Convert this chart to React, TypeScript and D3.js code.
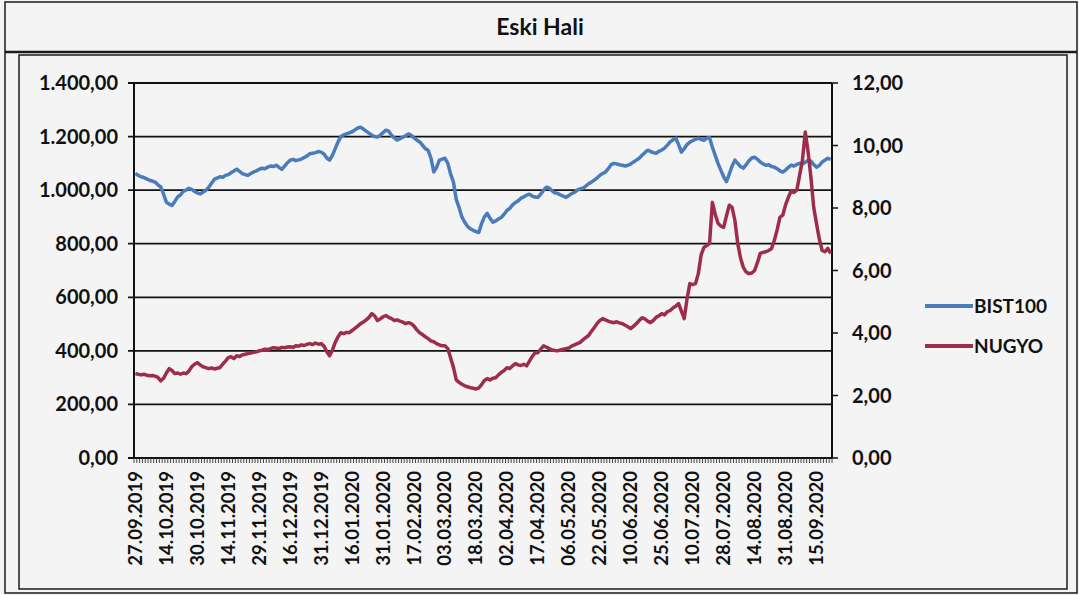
import React from "react";
import * as d3 from "d3";

// tick labels, one every 11 trading days
const dateLabels = [
  "27.09.2019", "14.10.2019", "30.10.2019", "14.11.2019", "29.11.2019", "16.12.2019",
  "31.12.2019", "16.01.2020", "31.01.2020", "17.02.2020", "03.03.2020", "18.03.2020",
  "02.04.2020", "17.04.2020", "06.05.2020", "22.05.2020", "10.06.2020", "25.06.2020",
  "10.07.2020", "28.07.2020", "14.08.2020", "31.08.2020", "15.09.2020",
];
const labelStep = 11;

// BIST100 (left axis)
const bist100 = [
  1063, 1055, 1050, 1047, 1042, 1037, 1034, 1030, 1020, 1012, 985,
  955, 948, 943, 958, 975, 982, 995, 1000, 1007, 1003, 995,
  990, 986, 992, 999, 1010, 1025, 1040, 1045, 1050, 1048, 1055,
  1058, 1065, 1072, 1078, 1070, 1062, 1058, 1055, 1062, 1068, 1072,
  1078, 1082, 1080, 1086, 1090, 1088, 1093, 1085, 1078, 1090, 1102,
  1112, 1115, 1110, 1113, 1116, 1122, 1128, 1136, 1138, 1140, 1144,
  1142, 1135, 1120, 1112, 1130, 1155, 1180, 1200, 1206, 1210, 1214,
  1218, 1225, 1232, 1235, 1228, 1220, 1213, 1205, 1200, 1198, 1205,
  1215, 1224, 1220, 1205, 1195, 1187, 1192, 1198, 1203, 1210, 1205,
  1195, 1187, 1180, 1168, 1155, 1149, 1120, 1068, 1085, 1112, 1116,
  1119, 1100, 1060, 1030, 965, 935, 900, 880, 865, 856, 850,
  845, 842, 875, 900, 913, 895, 880, 885, 892, 898, 910,
  924, 932, 945, 954, 960, 970, 975, 981, 985, 978, 974,
  973, 985, 1000, 1011, 1008, 998, 990, 988, 982, 978, 973,
  980, 987, 992, 1000, 1005, 1007, 1015, 1024, 1030, 1037, 1045,
  1055, 1062, 1067, 1080, 1095, 1100, 1098, 1095, 1093, 1090, 1093,
  1098, 1105, 1112, 1119, 1130, 1140, 1149, 1145, 1140, 1138, 1145,
  1150, 1157, 1168, 1180, 1188, 1194, 1170, 1142, 1155, 1170, 1179,
  1185, 1190, 1194, 1190, 1186, 1194, 1196, 1160, 1130, 1100, 1075,
  1050, 1032, 1060, 1090, 1112, 1100, 1088, 1082, 1095, 1110, 1120,
  1123, 1115, 1105, 1098, 1093, 1095, 1088, 1086, 1080, 1072, 1067,
  1075, 1085, 1093, 1090, 1096, 1100, 1098, 1104, 1112, 1108, 1095,
  1086, 1092, 1105, 1112, 1119, 1115,
];

// NUGYO (right axis)
const nugyo = [
  2.70, 2.68, 2.66, 2.68, 2.65, 2.63, 2.64, 2.62, 2.58, 2.47, 2.55,
  2.72, 2.86, 2.80, 2.70, 2.72, 2.68, 2.72, 2.70, 2.78, 2.92, 3.00,
  3.05, 2.98, 2.92, 2.89, 2.86, 2.88, 2.85, 2.87, 2.89, 3.00, 3.10,
  3.21, 3.24, 3.18, 3.27, 3.25, 3.30, 3.32, 3.34, 3.36, 3.38, 3.40,
  3.43, 3.45, 3.48, 3.47, 3.50, 3.53, 3.52, 3.50, 3.54, 3.53, 3.55,
  3.56, 3.54, 3.59, 3.58, 3.62, 3.60, 3.64, 3.66, 3.63, 3.68, 3.64,
  3.66, 3.58, 3.40, 3.27, 3.45, 3.70, 3.88, 4.01, 3.98, 4.02, 4.01,
  4.08, 4.15, 4.22, 4.30, 4.35, 4.42, 4.50, 4.62, 4.55, 4.40, 4.45,
  4.52, 4.56, 4.50, 4.46, 4.40, 4.42, 4.38, 4.35, 4.30, 4.33, 4.30,
  4.22, 4.10, 4.01, 3.95, 3.88, 3.82, 3.75, 3.72, 3.66, 3.62, 3.59,
  3.59, 3.50, 3.20, 2.90, 2.50, 2.42, 2.36, 2.31, 2.28, 2.25, 2.23,
  2.21, 2.24, 2.35, 2.48, 2.54, 2.50, 2.55, 2.57, 2.66, 2.74, 2.80,
  2.89, 2.86, 2.95, 3.02, 2.98, 2.96, 3.00, 2.95, 3.10, 3.25, 3.37,
  3.37, 3.48, 3.59, 3.55, 3.50, 3.46, 3.44, 3.43, 3.46, 3.48, 3.50,
  3.52, 3.58, 3.62, 3.66, 3.70, 3.78, 3.85, 3.92, 4.05, 4.17, 4.30,
  4.40, 4.46, 4.42, 4.38, 4.35, 4.33, 4.36, 4.32, 4.30, 4.25, 4.20,
  4.14, 4.22, 4.30, 4.40, 4.49, 4.45, 4.38, 4.33, 4.40, 4.50, 4.55,
  4.62, 4.58, 4.68, 4.72, 4.80, 4.86, 4.94, 4.70, 4.46, 5.10, 5.58,
  5.55, 5.58, 5.90, 6.50, 6.74, 6.80, 6.87, 8.18, 7.80, 7.51, 7.42,
  7.38, 7.75, 8.09, 8.02, 7.60, 6.87, 6.40, 6.10, 5.95, 5.90, 5.92,
  6.00, 6.25, 6.55, 6.58, 6.60, 6.64, 6.70, 6.96, 7.30, 7.70, 7.77,
  8.10, 8.34, 8.55, 8.50, 8.57, 9.05, 9.53, 10.43, 9.80, 8.99, 8.02,
  7.50, 7.00, 6.64, 6.60, 6.71, 6.55,
];

const leftTicks = [0, 200, 400, 600, 800, 1000, 1200, 1400];
const rightTicks = [0, 2, 4, 6, 8, 10, 12];

const seriesNames = ["BIST100", "NUGYO"];
const seriesColors = ["#4a7bba", "#9e2d4c"];

const W = 1079;
const H = 595;
const plot = { left: 134, right: 832, top: 83, bottom: 458 };
const font = "Lato, Calibri, 'Open Sans', sans-serif";

const fmt = (v: number, thousands: boolean) => {
  const s = v.toFixed(2).replace(".", ",");
  if (!thousands) return s;
  const [int, dec] = s.split(",");
  return int.replace(/\B(?=(\d{3})+(?!\d))/g, ".") + "," + dec;
};

export default function App() {
  const n = bist100.length;
  const x = d3.scaleBand<number>()
    .domain(d3.range(n))
    .range([plot.left, plot.right])
    .paddingInner(0)
    .paddingOuter(0);
  const cx = (i: number) => (x(i) as number) + x.bandwidth() / 2;
  const yL = d3.scaleLinear().domain([0, 1400]).range([plot.bottom, plot.top]);
  const yR = d3.scaleLinear().domain([0, 12]).range([plot.bottom, plot.top]);

  const lineL = d3.line<number>().x((_, i) => cx(i)).y((d) => yL(d));
  const lineR = d3.line<number>().x((_, i) => cx(i)).y((d) => yR(d));

  const catTicks = d3.range(n + 1).map((i) => plot.left + i * x.bandwidth());

  return (
    <svg
      width={W}
      height={H}
      style={{ position: "absolute", left: 0, top: 0, background: "#f4f4f4" }}
      fontFamily={font}
      fontWeight="bold"
    >
      {/* frames */}
      <rect x={5} y={2} width={1072} height={591} fill="none" stroke="#1a1a1a" strokeWidth={1.5} />
      <line x1={5} x2={1077} y1={52} y2={52} stroke="#1a1a1a" strokeWidth={2.5} />
      <rect x={19} y={55} width={1048} height={534} fill="none" stroke="#1a1a1a" strokeWidth={1.5} />

      <text x={540} y={35} textAnchor="middle" fontSize={23} fill="#111">Eski Hali</text>

      {/* gridlines */}
      {leftTicks.map((t) => (
        <line key={"g" + t} x1={plot.left - 6} x2={plot.right} y1={yL(t)} y2={yL(t)} stroke="#111" strokeWidth={1.8} />
      ))}
      {rightTicks.map((t) => (
        <line key={"r" + t} x1={plot.right} x2={plot.right + 6} y1={yR(t)} y2={yR(t)} stroke="#111" strokeWidth={1.5} />
      ))}
      <line x1={plot.left} x2={plot.left} y1={plot.top} y2={plot.bottom} stroke="#111" strokeWidth={2} />
      <line x1={plot.right} x2={plot.right} y1={plot.top} y2={plot.bottom} stroke="#111" strokeWidth={2} />
      <line x1={plot.left} x2={plot.right} y1={plot.bottom} y2={plot.bottom} stroke="#111" strokeWidth={2} />
      {catTicks.map((tx, i) => (
        <line key={"c" + i} x1={tx} x2={tx} y1={plot.bottom} y2={plot.bottom + 5} stroke="#333" strokeWidth={0.9} />
      ))}

      {/* axis labels */}
      {leftTicks.map((t) => (
        <text key={"lt" + t} x={118} y={yL(t)} dy="0.35em" textAnchor="end" fontSize={20} fill="#111">
          {fmt(t, true)}
        </text>
      ))}
      {rightTicks.map((t) => (
        <text key={"rt" + t} x={852} y={yR(t)} dy="0.35em" textAnchor="start" fontSize={20} fill="#111">
          {fmt(t, false)}
        </text>
      ))}
      {dateLabels.map((d, k) => (
        <text
          key={d}
          transform={`translate(${cx(k * labelStep)},${plot.bottom + 13}) rotate(-90)`}
          dy="0.35em"
          textAnchor="end"
          fontSize={18.5}
          fill="#111"
        >
          {d}
        </text>
      ))}

      {/* series */}
      <path d={lineL(bist100) || ""} fill="none" stroke={seriesColors[0]} strokeWidth={3.5} strokeLinejoin="round" />
      <path d={lineR(nugyo) || ""} fill="none" stroke={seriesColors[1]} strokeWidth={3.5} strokeLinejoin="round" />

      {/* legend */}
      {seriesNames.map((s, k) => (
        <g key={s} transform={`translate(925,${306 + k * 40})`}>
          <line x1={0} x2={48} y1={0} y2={0} stroke={seriesColors[k]} strokeWidth={4} />
          <text x={49} y={0} dy="0.35em" fontSize={19} fill="#111">{s}</text>
        </g>
      ))}
    </svg>
  );
}
